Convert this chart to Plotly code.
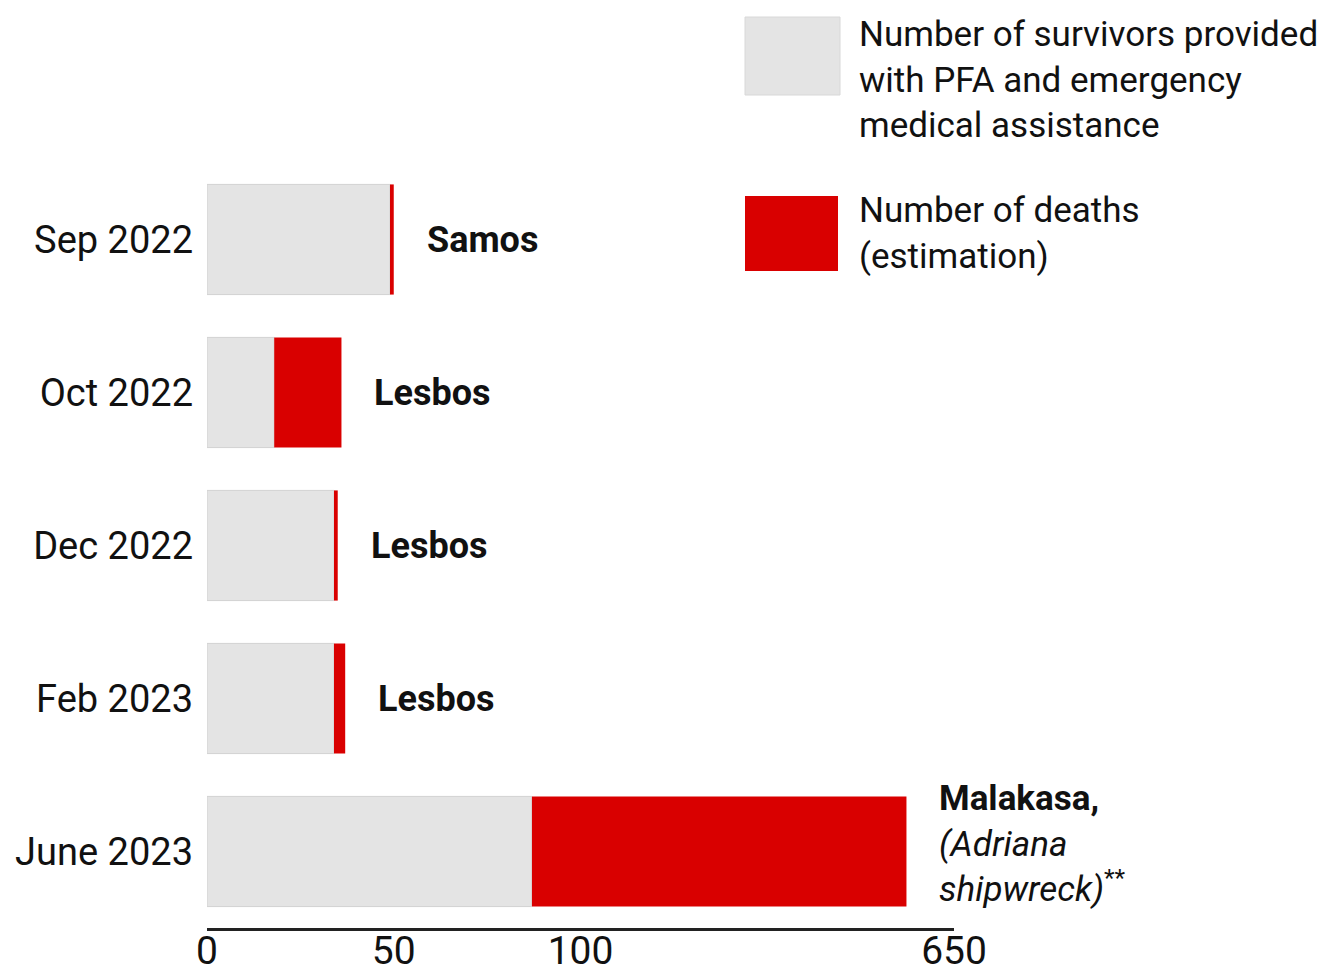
import plotly.graph_objects as go

# ---- data ----
periods = ["Sep 2022", "Oct 2022", "Dec 2022", "Feb 2023", "June 2023"]
survivors = [49, 18, 34, 34, 87]
deaths = [1, 18, 1, 3, 493]
places = ["<b>Samos</b>", "<b>Lesbos</b>", "<b>Lesbos</b>", "<b>Lesbos</b>",
          "<b>Malakasa,</b><br><i>(Adriana<br>shipwreck)</i><sup>**</sup>"]
tick_values = [0, 50, 100, 650]
legend_labels = ["Number of survivors provided<br>with PFA and emergency<br>medical assistance",
                 "Number of deaths<br>(estimation)"]

# broken axis: 0-100 linear, 100-650 compressed into the same width as 0-100
BREAK = 100
TOP = 650


def scale(v):
    if v <= BREAK:
        return v
    return BREAK + (v - BREAK) * BREAK / (TOP - BREAK)


GRAY = "#e4e4e4"
RED = "#d90000"
FONT = "Roboto"

surv_end = [scale(s) for s in survivors]
total_end = [scale(s + d) for s, d in zip(survivors, deaths)]
death_len = [t - s for s, t in zip(surv_end, total_end)]

fig = go.Figure()
fig.add_trace(go.Bar(
    y=periods, x=surv_end, base=[0] * len(periods), orientation="h",
    marker=dict(color=GRAY, line=dict(color="#d2d2d2", width=1)),
    name="survivors", showlegend=False, hoverinfo="skip"))
fig.add_trace(go.Bar(
    y=periods, x=death_len, base=surv_end, orientation="h",
    marker=dict(color=RED, line=dict(width=0)),
    name="deaths", showlegend=False, hoverinfo="skip"))

# place labels
for i, (p, lab) in enumerate(zip(periods, places)):
    last = i == len(periods) - 1
    fig.add_annotation(
        x=total_end[i], y=p, xref="x", yref="y", text=lab,
        showarrow=False, xanchor="left", yanchor="middle", align="left",
        xshift=31, yshift=8 if last else 0,
        font=dict(family=FONT, size=36 if not last else 35, color="#111"))

# legend (custom swatches), positions relative to the plot area
PX0, PY0, PW, PH = 207, 163, 747, 765
fig.add_shape(type="rect", xref="paper", yref="paper",
              x0=(745 - PX0) / PW, x1=(840 - PX0) / PW,
              y0=1 + (PY0 - 95) / PH, y1=1 + (PY0 - 17) / PH,
              fillcolor=GRAY, line=dict(color="#d8d8d8", width=1))
fig.add_shape(type="rect", xref="paper", yref="paper",
              x0=(745 - PX0) / PW, x1=(838 - PX0) / PW,
              y0=1 + (PY0 - 271) / PH, y1=1 + (PY0 - 196) / PH,
              fillcolor=RED, line=dict(width=0))
fig.add_annotation(x=(857 - PX0) / PW, y=1 + (PY0 - 80) / PH, xref="paper", yref="paper",
                   text=legend_labels[0], showarrow=False, xanchor="left", yanchor="middle",
                   align="left", font=dict(family=FONT, size=35, color="#111"))
fig.add_annotation(x=(857 - PX0) / PW, y=1 + (PY0 - 233) / PH, xref="paper", yref="paper",
                   text=legend_labels[1], showarrow=False, xanchor="left", yanchor="middle",
                   align="left", font=dict(family=FONT, size=35, color="#111"))

# page body has an 8px margin, so the figure origin sits at (8, 8) in the window
W, H = 1332, 961
fig.update_layout(
    width=W, height=H,
    margin=dict(l=PX0 - 8, r=W - (PX0 - 8) - PW, t=PY0 - 8,
                b=H - (PY0 - 8) - PH, autoexpand=False),
    paper_bgcolor="white", plot_bgcolor="white",
    barmode="overlay", bargap=0.28,
    font=dict(family=FONT, color="#111"),
    showlegend=False,
)
fig.update_xaxes(
    range=[0, scale(TOP)],
    tickvals=[scale(v) for v in tick_values],
    ticktext=[str(v) for v in tick_values],
    showgrid=False, zeroline=False, automargin=False,
    showline=True, linecolor="#222", linewidth=3,
    ticks="", ticklabelstandoff=-14,
    tickfont=dict(family=FONT, size=39, color="#111"),
)
fig.update_yaxes(
    categoryorder="array", categoryarray=periods, autorange="reversed",
    showgrid=False, zeroline=False, showline=False, ticks="", automargin=False,
    ticklabelstandoff=13,
    tickfont=dict(family=FONT, size=38, color="#111"),
)

fig.write_html("out.html")
